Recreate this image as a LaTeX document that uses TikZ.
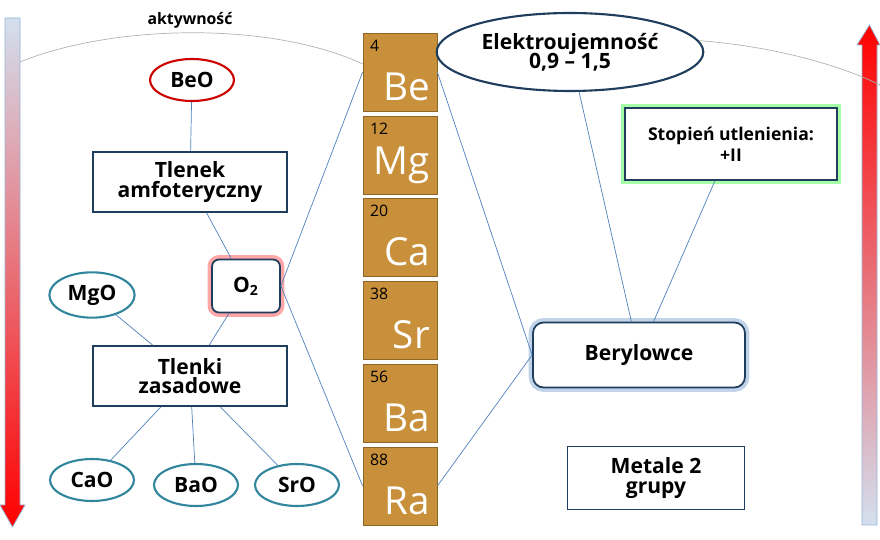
\documentclass[tikz,border=0pt]{standalone}
\usepackage{fontspec}
\setmainfont{Open Sans}
\usetikzlibrary{positioning,shapes.geometric,arrows.meta}
\definecolor{linia}{HTML}{4F81BD}
\definecolor{ramka}{HTML}{1F3D5C}
\definecolor{morski}{HTML}{31859C}
\definecolor{pierw}{HTML}{C8903A}
\tikzset{
  box/.style={draw=ramka, line width=1pt, fill=white, align=center, font=\bfseries\large},
  owal/.style={ellipse, draw=morski, line width=1.2pt, fill=white, font=\bfseries\large, minimum width=1.68cm, minimum height=0.84cm},
  elem/.style={draw=pierw!70!black, fill=pierw, minimum width=1.48cm, minimum height=1.56cm, inner sep=0pt},
  glow/.style={preaction={draw=#1!35, line width=5pt}},
  con/.style={linia, thin}
}
\begin{document}
\begin{tikzpicture}[x=0.02cm, y=-0.02cm]
  \useasboundingbox (0,0) rectangle (880,540);

  % strzalki aktywnosci
  \shade[top color=linia!25, bottom color=red, draw=linia!60]
    (5,18) -- (20,18) -- (20,505) -- (25,505) -- (12.5,527) -- (0,505) -- (5,505) -- cycle;
  \shade[top color=red, bottom color=linia!25, draw=linia!60]
    (862,525) -- (877,525) -- (877,45) -- (880,45) -- (869.5,25) -- (857,45) -- (862,45) -- cycle;
  \draw[gray!60] (20,62) .. controls (110,25) and (270,20) .. (365,65);
  \draw[gray!60] (690,40) .. controls (770,45) and (840,65) .. (880,85);
  \node[font=\bfseries\small] (akt) at (190,20) {aktywność};

  % pierwiastki
  \foreach \n/\s/\y in {4/Be/72,12/Mg/155,20/Ca/237,38/Sr/320,56/Ba/403,88/Ra/486} {
    \node[elem] (\s) at (400,\y) {};
    \node[anchor=north west, font=\small, inner sep=0pt] at ([shift={(4pt,-4pt)}]\s.north west) {\n};
    \node[anchor=south east, font=\fontsize{22}{26}\selectfont, text=white, inner sep=0pt] at ([shift={(-4pt,6pt)}]\s.south east) {\s};
  }

  % lewa strona
  \node[owal, draw=red!80!black] (BeO) at (192,80) {BeO};
  \node[box, minimum width=3.88cm, minimum height=1.2cm] (amf) at (190,182) {Tlenek\\[-3pt]amfoteryczny};
  \node[box, rounded corners=4pt, minimum width=1.36cm, minimum height=1.06cm, glow=red] (O2) at (246,286) {O\textsubscript{2}};
  \node[owal] (MgO) at (92,295) {MgO};
  \node[box, minimum width=3.88cm, minimum height=1.2cm] (zas) at (190,376) {Tlenki\\[-3pt]zasadowe};
  \node[owal] (CaO) at (92,480) {CaO};
  \node[owal] (BaO) at (196,485) {BaO};
  \node[owal] (SrO) at (297,485) {SrO};

  % prawa strona
  \node[ellipse, draw=ramka, line width=1.2pt, fill=white, align=center, font=\bfseries\large, minimum width=4.8cm, minimum height=1.56cm] (EN) at (570,52) {Elektroujemność\\[-3pt]0,9 – 1,5};
  \node[box, font=\bfseries, minimum width=4.24cm, minimum height=1.44cm, glow=green] (utl) at (731,144) {Stopień utlenienia:\\+II};
  \node[box, rounded corners=6pt, minimum width=4.24cm, minimum height=1.3cm, glow=linia] (ber) at (639,355) {Berylowce};
  \node[box, minimum width=3.54cm, minimum height=1.26cm] (met) at (656,478) {Metale 2\\[-3pt]grupy};

  % polaczenia
  \draw[con] (BeO) -- (amf);
  \draw[con] (amf) -- (O2);
  \draw[con] (O2) -- (zas);
  \draw[con] (MgO) -- (zas);
  \foreach \t in {CaO,BaO,SrO} \draw[con] (zas) -- (\t);
  \draw[con] (O2.east) -- (Be.west);
  \draw[con] (O2.east) -- (Ra.west);
  \draw[con] (Be.east) -- (ber.west);
  \draw[con] (Ra.east) -- (ber.west);
  \draw[con] (EN) -- (ber);
  \draw[con] (utl) -- (ber);
\end{tikzpicture}
\end{document}
